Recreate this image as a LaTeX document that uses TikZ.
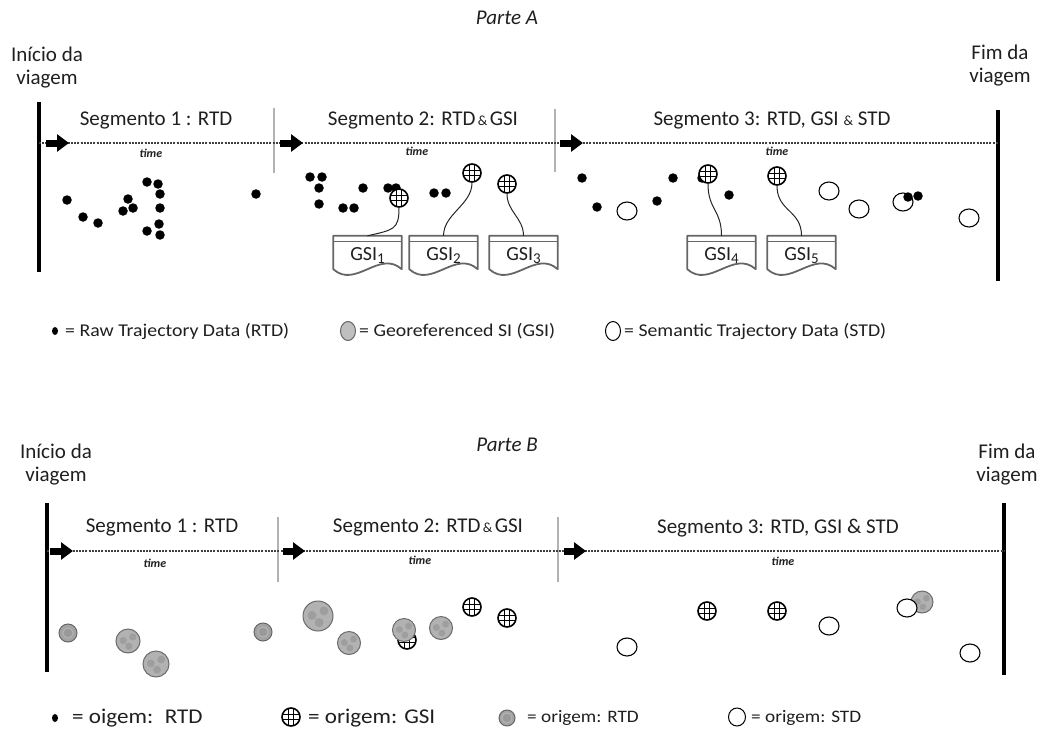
\documentclass[tikz,border=0pt]{standalone}
\usepackage{fontspec}
\setmainfont{Carlito}
\usetikzlibrary{arrows.meta,shapes.geometric}
\newcommand{\pxs}[2]{\fontsize{#1}{#2}\selectfont}
\newcommand{\wide}[1]{\scalebox{1.1}[1]{#1}}
\begin{document}
\begin{tikzpicture}[x=1pt,y=-1pt,
  lbl/.style={inner sep=0pt, text=black!88},
  ptitle/.style={lbl, font=\pxs{21}{23}\itshape},
  endtxt/.style={lbl, align=center, font=\pxs{21}{23}},
  seglbl/.style={lbl, font=\pxs{21}{23}},
  timelbl/.style={lbl, font=\pxs{12}{14}\itshape\bfseries},
  legA/.style={lbl, anchor=west, font=\pxs{18}{20}},
  legB/.style={lbl, anchor=west, font=\pxs{21}{23}},
  legBs/.style={lbl, anchor=west, font=\pxs{17.5}{20}},
  endbar/.style={line width=3.5pt, black},
  sepbar/.style={line width=2.5pt, black!30},
  timeline/.style={line width=1.3pt, black!75, dash pattern=on 2pt off 1.2pt},
  tarrow/.style={line width=7pt, -{Triangle[length=12pt,width=17pt]}},
  rtd/.style={circle, fill=black, inner sep=0pt, minimum size=9.5pt},
  std/.style={ellipse, draw=black, line width=1.1pt, fill=white, inner sep=0pt,
    minimum width=20pt, minimum height=18pt},
  gsi/.style={circle, draw=black, line width=1.6pt, fill=white, inner sep=0pt,
    minimum size=18pt, path picture={
      \foreach \q in {-2.7,2.7}{
        \draw[line width=1.3pt] ([xshift=\q pt]path picture bounding box.north) --
          ([xshift=\q pt]path picture bounding box.south);
        \draw[line width=1.3pt] ([yshift=\q pt]path picture bounding box.west) --
          ([yshift=\q pt]path picture bounding box.east);
      }}},
  gsmall/.style={circle, draw=black!60, line width=1pt, fill=black!36, inner sep=0pt,
    minimum size=18pt, path picture={
      \draw[black!28, fill=black!40, line width=0.8pt] (path picture bounding box.center) circle[radius=5pt];}},
  gbig/.style={circle, draw=black!58, line width=1pt, fill=black!30, inner sep=0pt,
    minimum size=#1pt, path picture={
      \fill[black!38] ([xshift=0.2*#1pt, yshift=0.17*#1pt]path picture bounding box.center) circle[radius=0.15*#1pt];
      \fill[black!38] ([xshift=-0.2*#1pt, yshift=0.02*#1pt]path picture bounding box.center) circle[radius=0.15*#1pt];
      \fill[black!38] ([xshift=0.04*#1pt, yshift=-0.22*#1pt]path picture bounding box.center) circle[radius=0.15*#1pt];}},
  docbox/.style={minimum width=68pt, minimum height=33pt, inner sep=0pt},
  docline/.style={draw=black!60, line width=1.8pt, fill=white, line join=round},
  link/.style={line width=1pt, black!85},
]
\useasboundingbox (0,0) rectangle (1043,733);

% ---------------- Parte A ----------------
\node[ptitle] (tA) at (507,18) {Parte A};
\node[endtxt] (iniA) at (47,68) {Início da\\viagem};
\node[endtxt] (fimA) at (1000,66) {Fim da\\viagem};

\draw[endbar] (39,102) -- (39,272);
\draw[endbar] (998,110) -- (998,281);
\draw[sepbar] (274,108) -- (274,173);
\draw[sepbar] (555,109) -- (555,172);

\coordinate (Atl) at (39,143);
\coordinate (Atr) at (998,143);
\draw[timeline] (Atl) -- (Atr);
\coordinate (Aa1s) at (46,143);  \coordinate (Aa1e) at (69,143);
\coordinate (Aa2s) at (280,143); \coordinate (Aa2e) at (303,143);
\coordinate (Aa3s) at (560,143); \coordinate (Aa3e) at (583,143);
\draw[tarrow] (Aa1s) -- (Aa1e);
\draw[tarrow] (Aa2s) -- (Aa2e);
\draw[tarrow] (Aa3s) -- (Aa3e);

\node[seglbl] (sA1) at (156,120) {Segmento 1 : RTD};
\node[seglbl] (sA2) at (423,120) {Segmento 2: RTD{\pxs{14}{14}\,\&\,}GSI};
\node[seglbl] (sA3) at (772,120) {Segmento 3: RTD, GSI {\pxs{14}{14}\&} STD};
\node[timelbl] (tmA1) at (151,153) {time};
\node[timelbl] (tmA2) at (417,151) {time};
\node[timelbl] (tmA3) at (777,151) {time};

% semantic points of segment 3
\foreach \n/\x/\y in {1/627/211, 2/829/191, 3/859/209, 4/903/202, 5/969/218}
  \node[std] (oA\n) at (\x,\y) {};

% raw trajectory points
\foreach \n/\x/\y in {1/67/200, 2/83/217, 3/98/223, 4/128/199, 5/133/208, 6/123/211,
    7/147/182, 8/158/184, 9/160/194, 10/160/208, 11/159/224, 12/147/231, 13/160/235,
    14/256/194, 15/310/177, 16/322/177, 17/319/188, 18/319/204, 19/343/208, 20/354/208,
    21/363/188, 22/388/188, 23/396/188, 24/434/193, 25/446/193, 26/582/178, 27/597/207,
    28/657/201, 29/673/178, 30/702/178, 31/729/195, 32/908/197, 33/918/196}
  \node[rtd] (rA\n) at (\x,\y) {};

% georeferenced points
\node[gsi] (g1) at (399,198) {};
\node[gsi] (g2) at (472,173) {};
\node[gsi] (g3) at (507,184) {};
\node[gsi] (g4) at (708,174) {};
\node[gsi] (g5) at (777,176) {};

% GSI documents
\newcommand{\gsidoc}[3]{%
  \node[docbox] (#1) at (#2,252.5) {};
  \draw[docline] (#1.south west) -- (#1.north west) -- (#1.north east) -- (#1.south east)
    .. controls +(-22,-20) and +(22,20) .. (#1.south west) -- cycle;
  \draw[black!60, line width=0.9pt] ([yshift=-6pt]#1.north west) -- ([yshift=-6pt]#1.north east);
  \node[lbl, font=\pxs{20}{22}] at ([yshift=-3pt]#1.center) {GSI\raisebox{-0.35ex}{\pxs{15}{15}#3}};
}
\gsidoc{d1}{367.5}{1}
\gsidoc{d2}{443.5}{2}
\gsidoc{d3}{523.5}{3}
\gsidoc{d4}{721.5}{4}
\gsidoc{d5}{801.5}{5}

\draw[link] (g1.south) .. controls +(0,22) and +(26,-6) .. (d1.north);
\draw[link] (g2.south) .. controls +(0,22) and +(0,-22) .. (d2.north);
\draw[link] (g3.south) .. controls +(0,18) and +(0,-18) .. (d3.north);
\draw[link] (g4.south) .. controls +(0,26) and +(0,-26) .. (d4.north);
\draw[link] (g5.south) .. controls +(0,26) and +(0,-26) .. (d5.north);

% legend A
\node[ellipse, fill=black, inner sep=0pt, minimum width=6pt, minimum height=8pt] (kA1) at (55,331) {};
\node[legA] (kA1t) at (65,331) {\wide{= Raw Trajectory Data (RTD)}};
\node[ellipse, draw=black!60, fill=black!25, line width=1pt, inner sep=0pt, minimum width=15pt, minimum height=19pt] (kA2) at (348,331) {};
\node[legA] (kA2t) at (359,331) {\wide{= Georeferenced SI (GSI)}};
\node[ellipse, draw=black, fill=white, line width=1pt, inner sep=0pt, minimum width=15pt, minimum height=19pt] (kA3) at (613,331) {};
\node[legA] (kA3t) at (624,331) {\wide{= Semantic Trajectory Data (STD)}};

% ---------------- Parte B ----------------
\node[ptitle] (tB) at (507,445) {Parte B};
\node[endtxt] (iniB) at (56,465) {Início da\\viagem};
\node[endtxt] (fimB) at (1007,465) {Fim da\\viagem};

\draw[endbar] (47,503) -- (47,672);
\draw[endbar] (1004,503) -- (1004,675);
\draw[sepbar] (278,517) -- (278,582);
\draw[sepbar] (558,517) -- (558,582);

\coordinate (Btl) at (47,551);
\coordinate (Btr) at (1004,551);
\draw[timeline] (Btl) -- (Btr);
\coordinate (Ba1s) at (50,551);  \coordinate (Ba1e) at (73,551);
\coordinate (Ba2s) at (283,551); \coordinate (Ba2e) at (305,551);
\coordinate (Ba3s) at (564,551); \coordinate (Ba3e) at (586,551);
\draw[tarrow] (Ba1s) -- (Ba1e);
\draw[tarrow] (Ba2s) -- (Ba2e);
\draw[tarrow] (Ba3s) -- (Ba3e);

\node[seglbl] (sB1) at (162,527) {Segmento 1 : RTD};
\node[seglbl] (sB2) at (428,527) {Segmento 2: RTD{\pxs{14}{14}\,\&\,}GSI};
\node[seglbl] (sB3) at (778,528) {Segmento 3: RTD, GSI \& STD};
\node[timelbl] (tmB1) at (155,563) {time};
\node[timelbl] (tmB2) at (420,560) {time};
\node[timelbl] (tmB3) at (783,561) {time};

\node[gsmall] (bA1) at (68,633) {};
\node[gsmall] (bA2) at (263,632) {};
\node[gbig=24] (bB1) at (128,641) {};
\node[gbig=26] (bB2) at (156,664) {};
\node[gbig=30] (bB3) at (318,616) {};
\node[gbig=23] (bB4) at (349,643) {};
\node[gsi] (gB1) at (407,640) {};
\node[gbig=23] (bB5) at (404,630) {};
\node[gbig=23] (bB6) at (441,628) {};
\node[gsi] (gB2) at (472,607) {};
\node[gsi] (gB3) at (507,618) {};
\node[gsi] (gB4) at (707,611) {};
\node[gsi] (gB5) at (777,611) {};
\node[gbig=22] (bB7) at (922,602) {};
\node[std] (oB1) at (627,647) {};
\node[std] (oB2) at (829,626) {};
\node[std] (oB3) at (907,608) {};
\node[std] (oB4) at (970,653) {};

% legend B
\node[ellipse, fill=black, inner sep=0pt, minimum width=6pt, minimum height=8pt] (kB1) at (55,718) {};
\node[legB] (kB1t) at (72,718) {\wide{= oigem:\enspace RTD}};
\node[gsi] (kB2) at (291,717) {};
\node[legB] (kB2t) at (308,718) {\wide{= origem: GSI}};
\node[gsmall, minimum size=16pt] (kB3) at (507,718) {};
\node[legBs] (kB3t) at (527,718) {\wide{= origem: RTD}};
\node[ellipse, draw=black, fill=white, line width=1pt, inner sep=0pt, minimum width=17pt, minimum height=18pt] (kB4) at (737,717) {};
\node[legBs] (kB4t) at (751,718) {\wide{= origem: STD}};
\end{tikzpicture}
\end{document}
